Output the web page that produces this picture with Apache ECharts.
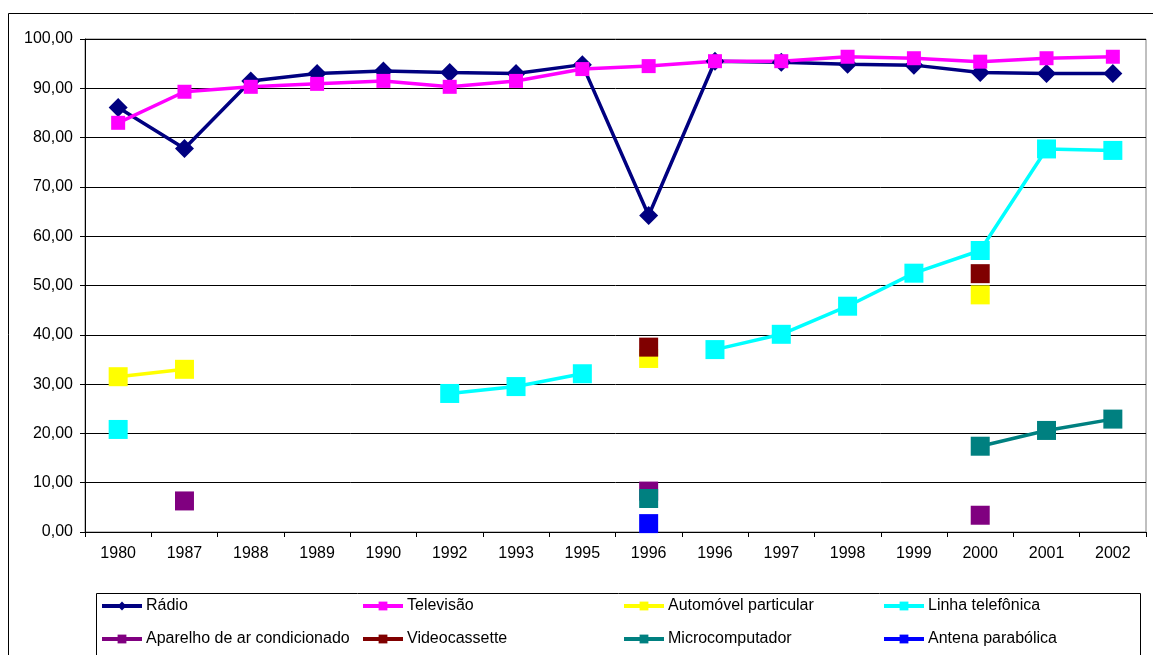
<!DOCTYPE html>
<html>
<head>
<meta charset="utf-8">
<script src="https://cdn.jsdelivr.net/npm/echarts@6/dist/echarts.min.js"></script>
<style>
html,body{margin:0;padding:0;background:#fff;}
#chart{width:1153px;height:655px;}
</style>
</head>
<body>
<div id="chart"></div>
<script>
// Categories (x axis tick labels)
const categories = ['1980','1987','1988','1989','1990','1992','1993','1995','1996','1996','1997','1998','1999','2000','2001','2002'];
const yTicks = [0,10,20,30,40,50,60,70,80,90,100];

// Series values (percent)
const radio       = [86.1, 77.8, 91.5, 93.0, 93.5, 93.2, 93.0, 94.8, 64.2, 95.5, 95.3, 94.9, 94.7, 93.2, 93.0, 93.0];
const televisao   = [83.0, 89.3, 90.3, 90.9, 91.5, 90.3, 91.5, 93.9, 94.5, 95.5, 95.5, 96.4, 96.1, 95.4, 96.1, 96.4];
const automovel   = [31.5, 33.0, null, null, null, null, null, null, 35.2, null, null, null, null, 48.1, null, null];
const linhaTel    = [20.8, null, null, null, null, 28.1, 29.5, 32.1, null, 37.0, 40.1, 45.8, 52.5, 57.1, 77.7, 77.4];
const arCond      = [null, 6.3, null, null, null, null, null, null, 8.3, null, null, null, null, 3.4, null, null];
const videocass   = [null, null, null, null, null, null, null, null, 37.5, null, null, null, null, 52.4, null, null];
const microcomp   = [null, null, null, null, null, null, null, null, 6.8, null, null, null, null, 17.4, 20.6, 22.9];
const antena      = [null, null, null, null, null, null, null, null, 1.7, null, null, null, null, null, null, null];

const seriesNames = ['Rádio','Televisão','Automóvel particular','Linha telefônica','Aparelho de ar condicionado','Videocassette','Microcomputador','Antena parabólica'];
const seriesData  = [radio, televisao, automovel, linhaTel, arCond, videocass, microcomp, antena];
const seriesColors = ['#000080','#FF00FF','#FFFF00','#00FFFF','#800080','#800000','#008080','#0000FF'];
const seriesSymbols = ['diamond','rect','rect','rect','rect','rect','rect','rect'];
const seriesSymbolSizes = [19,14,19,19,19,19,19,19];

const FONT = "'Liberation Sans', Arial, sans-serif";

const chart = echarts.init(document.getElementById('chart'), null, {renderer:'canvas'});

const series = seriesNames.map((name, i) => ({
  name: name,
  type: 'line',
  data: seriesData[i],
  connectNulls: false,
  symbol: seriesSymbols[i],
  symbolSize: seriesSymbolSizes[i],
  showAllSymbol: true,
  color: seriesColors[i],
  itemStyle: {color: seriesColors[i]},
  lineStyle: {color: seriesColors[i], width: 3.5},
  emphasis: {disabled: true},
  animation: false
}));

// legend layout: 4 columns x 2 rows
const legendCols = [100, 361, 622, 882];
const legendRows = [598, 631];
const legends = seriesNames.map((name, i) => ({
  data: [name],
  left: legendCols[i % 4],
  top: legendRows[Math.floor(i / 4)],
  itemWidth: 40,
  itemHeight: 11,
  itemGap: 5,
  selectedMode: false,
  lineStyle: {width: 4},
  textStyle: {fontFamily: FONT, fontSize: 16, color: '#000', padding: [0,0,0,-1]},
  padding: 0
}));

chart.setOption({
  animation: false,
  backgroundColor: '#fff',
  textStyle: {fontFamily: FONT},
  legend: legends,
  grid: {
    left: 85, right: 7, top: 39, bottom: 123,
    show: true, borderColor: '#808080', borderWidth: 1,
    containLabel: false
  },
  xAxis: {
    type: 'category',
    data: categories,
    boundaryGap: true,
    axisLine: {show: true, lineStyle: {color: '#000', width: 1}},
    axisTick: {show: true, length: 5, lineStyle: {color: '#000'}},
    axisLabel: {interval: 0, fontFamily: FONT, fontSize: 16, color: '#000', margin: 14},
    splitLine: {show: false}
  },
  yAxis: {
    type: 'value',
    min: yTicks[0],
    max: yTicks[yTicks.length - 1],
    interval: yTicks[1] - yTicks[0],
    axisLine: {show: true, lineStyle: {color: '#000', width: 1}},
    axisTick: {show: true, length: 5, lineStyle: {color: '#000'}},
    axisLabel: {
      fontFamily: FONT, fontSize: 16, color: '#000', margin: 12,
      formatter: v => v.toFixed(2).replace('.', ',')
    },
    splitLine: {show: true, lineStyle: {color: '#000', width: 1}}
  },
  graphic: [
    {type: 'rect', silent: true, z: -10,
     shape: {x: 8.5, y: 13.5, width: 1170, height: 700},
     style: {fill: null, stroke: '#000', lineWidth: 1}},
    {type: 'rect', silent: true, z: -10,
     shape: {x: 96.5, y: 593.5, width: 1044, height: 120},
     style: {fill: null, stroke: '#000', lineWidth: 1}}
  ],
  series: series
});
</script>
</body>
</html>
